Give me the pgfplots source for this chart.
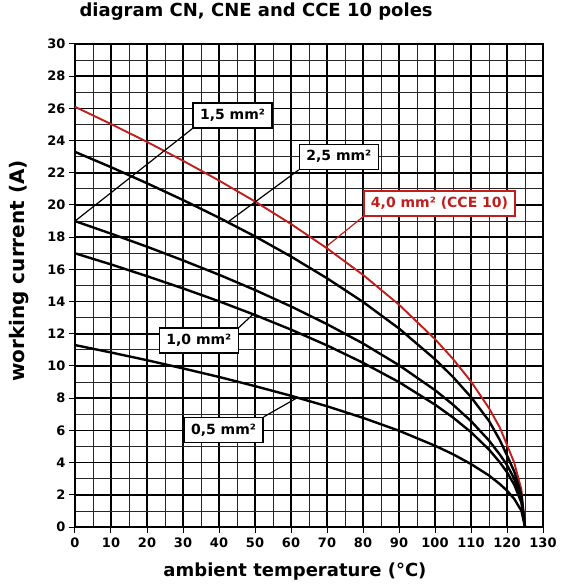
\documentclass[border=0pt]{standalone}
\usepackage{fontspec}
\setmainfont{DejaVu Sans}
\usepackage{pgfplots}
\pgfplotsset{compat=1.18}
\definecolor{cred}{RGB}{192,30,28}

% current vs. ambient temperature, one table per cross-section
\pgfplotstableread{
T I
0 26.1
10 25.03
20 23.92
30 22.75
40 21.52
50 20.22
60 18.82
70 17.31
80 15.66
90 13.81
100 11.67
105 10.44
110 9.04
115 7.38
118 6.18
120 5.10
122 4.00
124 2.33
125 0
}\cfour
\pgfplotstableread{
T I
0 23.3
10 22.35
20 21.35
30 20.31
40 19.21
50 18.05
60 16.80
70 15.45
80 13.98
90 12.33
100 10.42
105 9.32
110 8.07
115 6.59
118 5.40
120 4.45
122 3.45
124 2.00
125 0
}\ctwofive
\pgfplotstableread{
T I
0 19.0
10 18.22
20 17.41
30 16.56
40 15.67
50 14.72
60 13.70
70 12.60
80 11.40
90 10.05
100 8.50
105 7.60
110 6.58
115 5.37
118 4.50
120 3.85
122 3.00
124 1.70
125 0
}\conefive
\pgfplotstableread{
T I
0 17.0
10 16.31
20 15.58
30 14.82
40 14.02
50 13.17
60 12.26
70 11.28
80 10.20
90 9.00
100 7.60
105 6.80
110 5.89
115 4.81
118 4.02
120 3.40
122 2.63
124 1.52
125 0
}\cone
\pgfplotstableread{
T I
0 11.3
10 10.84
20 10.36
30 9.85
40 9.32
50 8.75
60 8.15
70 7.50
80 6.78
90 5.98
100 5.05
105 4.52
110 3.91
115 3.20
118 2.67
120 2.26
122 1.75
124 1.01
125 0
}\chalf

\begin{document}
\begin{tikzpicture}
\path[use as bounding box] (-75pt,-59pt) rectangle (492pt,527pt);
\begin{axis}[
  at={(0,0)}, anchor=south west,
  scale only axis, width=468pt, height=483pt,
  xmin=0, xmax=130, ymin=0, ymax=30,
  xtick={0,10,...,130}, ytick={0,2,...,30},
  minor x tick num=1, minor y tick num=1,
  grid=both,
  major grid style={black, line width=1.5pt},
  minor grid style={black!85, line width=0.8pt},
  axis line style={line width=1.8pt},
  tick pos=left, tick align=outside,
  major tick length=6pt, minor tick length=0pt,
  major tick style={black, line width=1pt},
  /pgf/number format/assume math mode=true,
  tick label style={font=\bfseries\fontsize{13}{13}\selectfont},
  xticklabel style={yshift=-1pt},
  title={diagram CN, CNE and CCE 10 poles},
  title style={at={(axis description cs:0.387,1.054)}, anchor=center,
    font=\bfseries\fontsize{18}{18}\selectfont},
  xlabel={ambient temperature (°C)},
  xlabel style={at={(axis description cs:0.47,-0.093)}, anchor=center,
    font=\bfseries\fontsize{18}{18}\selectfont},
  ylabel={working current (A)},
  ylabel style={at={(axis description cs:-0.119,0.53)}, anchor=center,
    font=\bfseries\fontsize{20}{20}\selectfont},
  every axis plot/.append style={line width=2.4pt},
]
\addplot[cred, line width=1.9pt] table[x=T,y=I] {\cfour};
\addplot[black] table[x=T,y=I] {\ctwofive};
\addplot[black] table[x=T,y=I] {\conefive};
\addplot[black] table[x=T,y=I] {\cone};
\addplot[black] table[x=T,y=I] {\chalf};

\tikzset{lbl/.style={draw=black, fill=white, line width=1.3pt,
  font=\bfseries\fontsize{14}{14}\selectfont, inner xsep=7pt,
  minimum height=25pt}}
\node[lbl] (l15) at (axis cs:43.75,25.56) {1,5 mm²};
\node[lbl] (l25) at (axis cs:73.3,23.0) {2,5 mm²};
\node[lbl, draw=cred, text=cred] (l40) at (axis cs:101.25,20.1) {4,0 mm² (CCE 10)};
\node[lbl] (l10) at (axis cs:34.4,11.58) {1,0 mm²};
\node[lbl] (l05) at (axis cs:41.25,6.02) {0,5 mm²};
\draw[line width=1.2pt] (axis cs:0,19) -- (l15.south west);
\draw[line width=1.2pt] (axis cs:42.5,18.95) -- (l25.south west);
\draw[line width=1.2pt, cred] (axis cs:69.7,17.4) -- (l40.south west);
\draw[line width=1.2pt] (axis cs:49.4,13.2) -- (l10.north east);
\draw[line width=1.2pt] (axis cs:61.9,8.05) -- (l05.north east);
\end{axis}
\end{tikzpicture}
\end{document}
